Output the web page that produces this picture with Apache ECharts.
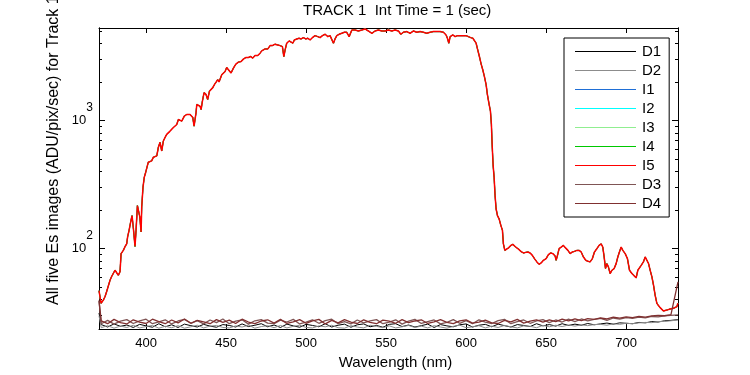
<!DOCTYPE html>
<html>
<head>
<meta charset="utf-8">
<script src="https://cdn.jsdelivr.net/npm/echarts@6/dist/echarts.min.js"></script>
<style>html,body{margin:0;padding:0;background:#fff}#c{width:750px;height:375px}</style>
</head>
<body>
<div id="c"></div>
<script>
// ---- data ----
var seriesNames = ['D1','D2','I1','I2','I3','I4','I5','D3','D4'];
var seriesColors = ['#000000','#8c8c8c','#1f6fd6','#00ffff','#90ee90','#00c800','#ff0000','#7f5555','#803030'];
var seriesWidths = [1,1,1,1,1,1,1.5,1.3,1.3];

var xTickValues = [400,450,500,550,600,650,700];
var yLabelValues = [100,1000];
var yMinorTicks = [30,40,50,60,70,80,90,200,300,400,500,600,700,800,900,2000,3000,4000,5000];

// Illuminated spectrum (I1..I5 overlap almost perfectly)
var iWavelength = [370.6,371.9,373.3,374.4,375.4,376.4,377.5,378.5,379.6,380.6,381.7,382.7,383.75,384.4,385.8,386.9,387.9,388.5,389.4,390.4,391.25,392.1,393.1,393.75,394.6,395.4,396.1,396.9,397.3,398.1,398.9,399.8,400.8,401.4,402.5,403.5,404.6,405.6,406.7,407.7,408.75,409.8,410.8,411.9,412.9,413.9,415,416,417.1,418.1,419.2,420.2,421.25,422.3,422.9,423.9,425.4,426.5,427.5,428.5,429.2,430,430.6,431.25,431.7,432.7,433.75,434.4,435.2,436.25,437.5,438.5,439.6,440.6,441.7,442.7,443.75,444.8,445.6,446.25,447.3,449.4,450.4,451.4,453.1,454.6,456.1,457.7,459.4,460.8,462.3,463.9,465.4,466.7,468.1,469.8,471.25,472.3,473.3,474.4,476.1,477.5,478.9,480.6,482.3,483.75,485.2,486.1,486.9,487.9,489.4,490.6,491.7,492.7,494.2,495.6,496.9,498.3,499.8,501.1,502.5,503.9,505.6,507.3,508.75,510.2,511.9,513.6,515,516.1,517.1,518.1,519.2,520.6,522.3,523.9,525.4,526.9,528.6,530.6,532.7,534.8,536.9,538.9,541.1,543.1,545.2,547.3,549.4,551.4,553.6,555.6,557.7,559.2,560.8,562.9,565,567.1,569.2,571.25,573.3,575.4,577.5,579.6,581.7,583.75,585.8,587.5,588.3,589.2,590,591.7,593.1,594.6,596.25,598.3,600,601.4,602.9,604.2,605,606.25,607.1,608.3,609.4,610.4,611.4,612.5,613.3,614.4,615.2,615.8,616.25,616.9,617.5,618.1,618.75,619.6,620.6,621.7,622.7,623.3,624.2,625.4,626.7,627.9,629.2,630.6,631.7,633.1,634.4,635.8,637.3,638.6,640,641.4,642.7,644.2,645.6,646.9,648.3,650,651.4,652.9,654.2,655.6,656.25,657.1,658.1,659.4,660.8,662.3,663.6,665,666.4,667.7,669.2,670.6,671.9,673.3,674.8,676.1,677.5,678.9,680.2,681.7,683.1,684.4,685.4,686.25,687.1,687.9,688.9,690,691.1,692.5,693.75,694.8,695.8,696.9,697.9,699.4,700.8,702.1,703.6,705,706.25,707.3,708.3,709.4,710.8,711.9,712.9,714,715,716.1,717.1,718.1,719.2,720.2,721.25,722.3,723.3,724.4,725.4,726.4,727.5,728.6,729.6,730.6,731.7,732.3];
var iValues = [47,37.5,39.7,42.4,46.4,47.5,56.8,60.7,60.7,67.9,66.3,62.1,66.3,91.5,97,104,109,124,139,162,181,143,104,139,217,217,177,135,212,302,361,395,442,472,484,484,517,517,529,618,675,578,691,738,779,807,826,826,882,903,931,1018,1055,988,988,1080,1113,1080,1113,1153,1055,903,882,1153,1331,1379,1291,1217,1411,1648,1591,1455,1687,1648,1803,1901,1970,2079,1995,1960,2273,2411,2589,2530,2343,2561,2751,2851,2882,3008,3095,3095,3151,3062,3208,3208,3348,3488,3409,3615,3615,3834,3834,3932,3882,3834,3767,3151,3551,4003,4171,4322,4003,4245,4322,4376,4322,4423,4322,4376,4245,4423,4584,4503,4423,4584,4700,4503,4584,4503,4003,4322,4584,4700,4785,4871,4871,4503,5075,5075,4985,5075,5168,4985,4785,4985,5075,4985,4985,5075,4985,5075,4985,4700,4871,4930,4785,4985,4871,4930,4871,4785,4871,4930,4930,4930,4871,4642,4376,4003,4503,4642,4503,4584,4584,4584,4584,4503,4423,4376,4322,4003,3615,3151,2751,2485,2205,1901,1591,1331,1181,931,652,442,360,259,204,181,171,152,139,109,97,94.3,102,106,108,104,103,98.2,94.8,92.6,93.6,94.3,92.6,88.7,83.7,78.9,75.5,77.4,81.2,83.7,89.8,92.6,91.5,87.8,81.2,88.7,100,103,106,101,97,91.5,94.3,95.3,97,97,94.3,86.2,81.2,79.7,78.9,83.7,94.3,100,106,109,103,86.2,70,76.5,72.1,64,67.9,70,76.5,86.2,94.3,103,97,91.5,83.7,67.9,64,61.4,59.3,67.9,70,74.2,78.9,86.2,83.7,76.5,67.9,60.3,51.9,43.5,37.5,36,34.7,33.9,32.7,32.7,33.2,32.3,33.9,33.2,34.3,34.7,35.3,37.5];

// Dark frames
var darkWavelength = [370.6,372,376,380,384,388,392,396,400,404,408,412,416,420,424,428,432,436,440,444,448,452,456,460,464,468,472,476,480,484,488,492,496,500,504,508,512,516,520,524,528,532,536,540,544,548,552,556,560,564,568,572,576,580,584,588,592,596,600,604,608,612,616,620,624,628,632,636,640,644,648,652,656,660,664,668,672,676,680,684,688,692,696,700,704,708,712,716,720,724,728,732.4];
var d1Values = [31.5,25.6,24.5,25.9,24.8,25.4,24.3,25.7,25.0,24.4,26.0,24.6,25.5,24.3,25.8,25.1,24.5,25.7,24.9,24.4,25.6,25.2,24.5,25.9,24.7,25.3,26.0,24.6,25.4,24.3,25.8,25.0,24.4,25.7,25.2,24.6,26.0,24.5,25.3,25.8,24.4,25.5,25.9,24.6,25.2,24.4,25.7,26.0,24.7,25.4,24.5,25.1,25.8,24.3,25.6,25.0,24.6,25.5,25.9,24.5,25.3,25.7,24.6,25.8,25.1,24.5,25.6,25.2,24.7,26.0,25.0,25.6,24.9,26.0,25.2,25.8,25.3,26.1,25.5,25.9,26.3,25.8,26.4,26.2,26.0,26.6,26.4,27.0,26.8,27.4,27.6,28.0];
var d2Values = [30,24.2,25.1,24.0,24.9,24.3,25.3,24.1,24.7,25.2,24.0,24.8,24.2,25.1,24.0,24.6,25.3,24.1,24.9,25.2,24.3,24.1,25.0,24.5,25.3,24.0,24.7,25.1,24.2,25.2,24.1,24.8,25.3,24.3,24.1,25.0,24.6,25.3,24.2,24.0,25.1,24.5,24.1,25.3,24.8,24.2,25.0,24.1,24.6,25.2,24.3,24.9,24.1,25.1,24.5,24.0,24.8,25.3,24.2,24.6,25.1,24.1,24.9,24.3,25.2,24.6,24.1,25.0,24.8,24.2,25.2,24.6,25.3,24.7,25.4,24.9,25.5,25.1,25.6,25.7,25.3,26.0,25.7,26.2,26.0,26.4,26.6,26.5,27.0,27.1,27.4,27.8];
var d3Values = [39,26.0,27.6,25.8,27.2,28.0,26.1,27.4,28.2,26.0,26.9,27.9,25.9,27.3,28.1,26.2,27.5,25.9,27.8,26.5,28.3,26.0,27.2,27.9,25.8,27.4,28.0,26.3,26.0,27.7,26.8,28.1,25.9,26.7,27.9,26.2,27.5,28.2,26.0,27.0,25.9,27.8,26.4,27.3,28.0,26.0,26.7,27.9,25.8,27.2,28.1,26.1,27.0,27.8,25.9,26.6,28.0,26.2,27.5,26.0,27.9,26.7,26.1,27.5,28.1,26.0,27.0,27.8,26.2,27.3,28.0,26.5,27.8,26.8,28.2,27.0,28.3,27.3,28.1,28.6,27.6,28.8,28.2,29.0,28.6,29.3,28.9,29.6,29.4,30.0,30.2,30.5];
var d4Values = [39.5,27.4,26.0,28.1,26.5,25.9,27.9,26.8,26.1,28.2,27.0,26.0,27.8,26.4,28.3,26.2,27.6,26.9,26.0,28.0,26.6,27.7,26.1,28.2,26.8,26.0,27.3,27.9,26.3,28.1,26.1,26.9,28.0,26.2,27.4,28.1,25.9,27.6,26.4,28.0,26.8,26.1,27.9,26.6,26.0,27.7,27.2,26.2,28.0,26.5,27.3,27.9,26.1,26.9,28.0,26.6,26.0,27.4,27.9,26.3,26.8,27.7,26.4,26.1,27.6,26.9,28.1,26.3,27.2,27.8,26.7,27.9,27.0,28.2,27.3,28.4,27.5,28.5,28.1,28.8,28.3,29.2,28.7,29.4,29.0,29.6,29.3,29.9,30.2,30.0,30.6,55];

// ---- build chart ----
function pairs(xs, ys){ var out=[]; for(var i=0;i<xs.length;i++){ out.push([xs[i], ys[i]]); } return out; }
var seriesData = {
  D1: pairs(darkWavelength, d1Values),
  D2: pairs(darkWavelength, d2Values),
  I1: pairs(iWavelength, iValues),
  I2: pairs(iWavelength, iValues),
  I3: pairs(iWavelength, iValues),
  I4: pairs(iWavelength, iValues),
  I5: pairs(iWavelength, iValues),
  D3: pairs(darkWavelength, d3Values),
  D4: pairs(darkWavelength, d4Values)
};

var FONT = 'Liberation Sans, Arial, sans-serif';
var X_MIN = 370.6, X_MAX = 732.4, Y_MIN = 23.6, Y_MAX = 5260;

function yAxisDef(pos, ticks, len, labels){
  return {
    type: 'log', logBase: 10, min: Y_MIN, max: Y_MAX, position: pos,
    axisLine: {show: true, lineStyle: {color: '#000', width: 1}},
    axisTick: {show: true, inside: true, length: len, customValues: ticks, lineStyle: {color: '#000'}},
    axisLabel: labels ? {
      show: true, customValues: yLabelValues, margin: 6, color: '#000',
      formatter: function(v){ return '{b|10}{s|' + Math.round(Math.log10(v)) + '}'; },
      rich: {
        b: {fontSize: 13, fontFamily: FONT, color: '#000', lineHeight: 13, padding: [12,0,12,0]},
        s: {fontSize: 12, fontFamily: FONT, color: '#000', lineHeight: 12, padding: [0,0,25,0]}
      }
    } : {show: false},
    splitLine: {show: false}, minorTick: {show: false}, minorSplitLine: {show: false}
  };
}
function xAxisDef(pos, labels){
  return {
    type: 'value', min: X_MIN, max: X_MAX, position: pos,
    axisLine: {show: true, onZero: false, lineStyle: {color: '#000', width: 1}},
    axisTick: {show: true, inside: true, length: 5, customValues: xTickValues, lineStyle: {color: '#000'}},
    axisLabel: labels ? {show: true, customValues: xTickValues, color: '#000', fontSize: 13, fontFamily: FONT, margin: 8} : {show: false},
    splitLine: {show: false},
    name: labels ? 'Wavelength (nm)' : '',
    nameLocation: 'middle', nameGap: 24,
    nameTextStyle: {fontSize: 15, fontFamily: FONT, color: '#000', padding: [0,0,0,14]}
  };
}

var series = seriesNames.map(function(n, i){
  return {
    name: n, type: 'line', data: seriesData[n],
    xAxisIndex: 0, yAxisIndex: 0,
    symbol: 'none', showSymbol: false, smooth: false,
    color: seriesColors[i],
    lineStyle: {color: seriesColors[i], width: seriesWidths[i]},
    itemStyle: {color: seriesColors[i]},
    z: 2 + i, animation: false, silent: true
  };
});

var chart = echarts.init(document.getElementById('c'), null, {renderer: 'canvas'});
chart.setOption({
  animation: false,
  backgroundColor: '#fff',
  textStyle: {fontFamily: FONT},
  title: {
    text: 'TRACK 1  Int Time = 1 (sec)', left: 303, top: 3, padding: 0,
    textStyle: {fontSize: 15, fontWeight: 'normal', color: '#000', fontFamily: FONT}
  },
  grid: {left: 99, right: 72, top: 28, bottom: 44, show: false, containLabel: false},
  xAxis: [xAxisDef('bottom', true), xAxisDef('top', false)],
  yAxis: [
    yAxisDef('left', yLabelValues, 6, true),
    yAxisDef('left', yMinorTicks, 3, false),
    yAxisDef('right', yLabelValues, 6, false),
    yAxisDef('right', yMinorTicks, 3, false)
  ],
  legend: {
    orient: 'vertical', left: 564, top: 38,
    padding: [5.5, 8, 5.5, 11],
    borderColor: '#000', borderWidth: 1, backgroundColor: '#fff',
    icon: 'rect', itemWidth: 61, itemHeight: 1, itemGap: 3,
    selectedMode: false,
    textStyle: {fontSize: 15, fontFamily: FONT, color: '#000', lineHeight: 16, padding: [0,0,0,1]},
    data: seriesNames
  },
  graphic: [{
    type: 'text', x: 54, y: 305, rotation: Math.PI / 2, silent: true,
    style: {text: 'All five Es images (ADU/pix/sec) for Track 1', font: '16px ' + FONT, fill: '#000', align: 'left', verticalAlign: 'middle'}
  }],
  series: series
});
</script>
</body>
</html>
